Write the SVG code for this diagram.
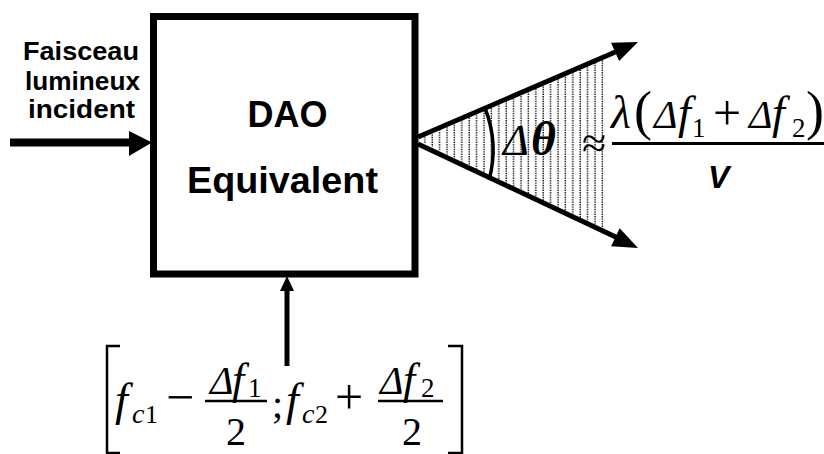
<svg xmlns="http://www.w3.org/2000/svg" width="824" height="454" viewBox="0 0 824 454">
<style>
.lbl{font-family:"Liberation Sans",Arial,sans-serif;font-weight:bold;fill:#000}
.m{font-family:"Liberation Serif","Times New Roman",serif;font-style:italic;fill:#000}
.r{font-family:"Liberation Serif","Times New Roman",serif;fill:#000}
.ln{stroke:#000;fill:none}
</style>
<defs>
<pattern id="hatch" patternUnits="userSpaceOnUse" x="0" y="0" width="7.4" height="400">
<line x1="3" y1="0" x2="3" y2="400" stroke="#000" stroke-width="1.3" stroke-dasharray="1.4 1"/>
</pattern>
</defs>
<rect width="824" height="454" fill="#fff"/>

<g id="beam">
<polygon points="418,140 607,56 607,233" fill="url(#hatch)"/>
<path class="ln" d="M485,108 Q499,144 489,180" stroke-width="3.5"/>
</g>

<g id="connectors">
<line class="ln" x1="10" y1="142.5" x2="133" y2="142.5" stroke-width="8"/>
<polygon points="129,131 152,142.5 129,156" fill="#000"/>
<line class="ln" x1="287" y1="366" x2="287" y2="287" stroke-width="5"/>
<polygon points="280,291 287,276 294,291" fill="#000"/>
<line class="ln" x1="418" y1="137" x2="620" y2="50" stroke-width="5"/>
<polygon points="638,42 611.1,42.7 619.1,61.1" fill="#000"/>
<line class="ln" x1="418" y1="144" x2="620" y2="239" stroke-width="5"/>
<polygon points="638,248 611.1,246.3 619.7,228.3" fill="#000"/>
</g>

<g id="dao">
<rect x="153.5" y="16.5" width="261.5" height="257.5" fill="none" stroke="#000" stroke-width="7"/>
<text class="lbl" x="287.5" y="126.5" font-size="36" text-anchor="middle">DAO</text>
<text class="lbl" x="282.5" y="192.5" font-size="36" text-anchor="middle" textLength="191" lengthAdjust="spacingAndGlyphs">Equivalent</text>
</g>

<g id="input">
<text class="lbl" x="23" y="60" font-size="25" textLength="116" lengthAdjust="spacingAndGlyphs">Faisceau</text>
<text class="lbl" x="25" y="90" font-size="25" textLength="115" lengthAdjust="spacingAndGlyphs">lumineux</text>
<text class="lbl" x="28" y="118" font-size="25" textLength="107" lengthAdjust="spacingAndGlyphs">incident</text>
</g>

<g id="delta-theta">
<text class="m" x="503" y="155" font-size="44">Δ</text>
<text class="m" x="531" y="155" font-size="48" font-weight="bold">θ</text>
<text class="r" x="582" y="158" font-size="44">≈</text>
<text class="m" x="611" y="128" font-size="46">λ</text>
<text class="r" x="634" y="129" font-size="54">(</text>
<text class="m" x="654" y="128" font-size="40">Δ</text>
<text class="m" x="678" y="128" font-size="46">f</text>
<text class="r" x="692" y="137" font-size="27">1</text>
<text class="r" x="713" y="130" font-size="50">+</text>
<text class="m" x="749" y="128" font-size="40">Δ</text>
<text class="m" x="772" y="128" font-size="46">f</text>
<text class="r" x="792" y="137" font-size="27">2</text>
<text class="r" x="806" y="129" font-size="54">)</text>
<line class="ln" x1="612" y1="143.5" x2="824" y2="143.5" stroke-width="3"/>
<text class="lbl" x="708" y="188" font-size="32" font-style="italic">V</text>
</g>

<g id="frequency-range">
<path class="ln" d="M120,346 H107 V453 H120" stroke-width="2.5"/>
<path class="ln" d="M448,346 H462 V453 H448" stroke-width="2.5"/>
<text class="m" x="115" y="415" font-size="46">f</text>
<text class="m" x="132" y="423" font-size="28">c</text>
<text class="r" x="145" y="423" font-size="26">1</text>
<text class="r" x="166" y="414" font-size="50">−</text>
<text class="m" x="210" y="394" font-size="40">Δ</text>
<text class="m" x="232" y="394" font-size="44">f</text>
<text class="r" x="248" y="397" font-size="27">1</text>
<line class="ln" x1="205" y1="401" x2="267" y2="401" stroke-width="2.5"/>
<text class="r" x="226" y="445" font-size="40">2</text>
<text class="r" x="272" y="418" font-size="40">;</text>
<text class="m" x="286" y="415" font-size="46">f</text>
<text class="m" x="302" y="423" font-size="28">c</text>
<text class="r" x="315" y="423" font-size="26">2</text>
<text class="r" x="335" y="414" font-size="50">+</text>
<text class="m" x="380" y="394" font-size="40">Δ</text>
<text class="m" x="403" y="394" font-size="44">f</text>
<text class="r" x="421" y="397" font-size="27">2</text>
<line class="ln" x1="378" y1="401" x2="443" y2="401" stroke-width="2.5"/>
<text class="r" x="402" y="445" font-size="40">2</text>
</g>
</svg>
